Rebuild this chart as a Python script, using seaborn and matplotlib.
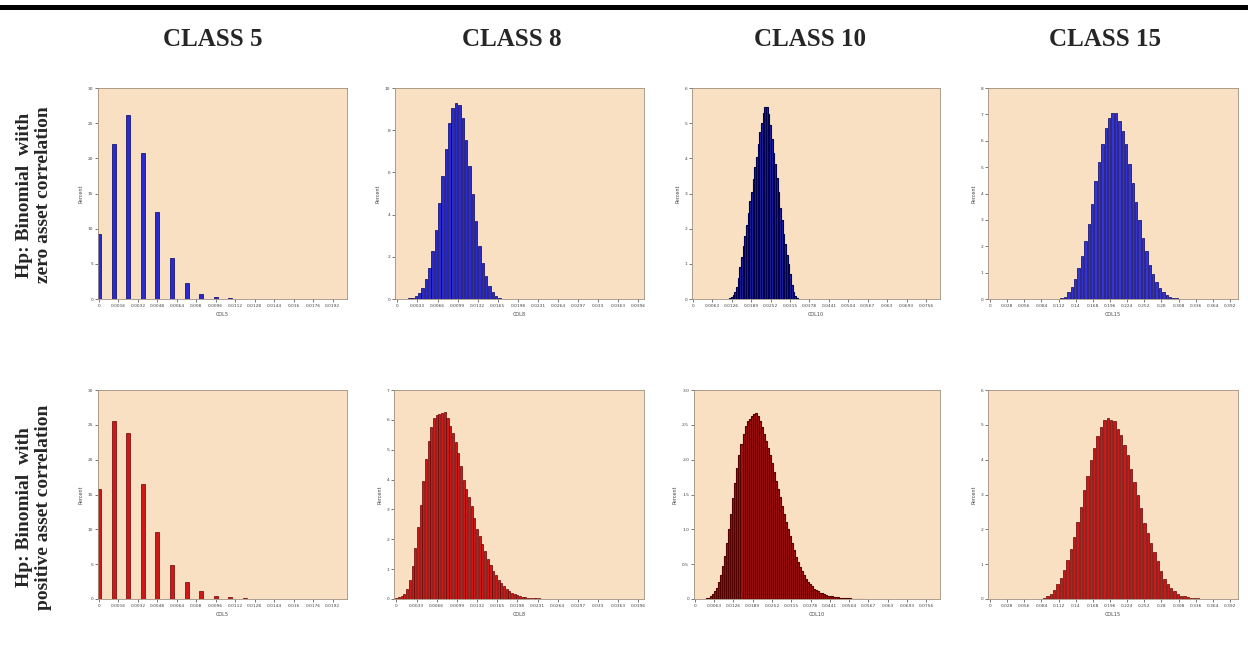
import numpy as np
import pandas as pd
import matplotlib
matplotlib.use("Agg")
import matplotlib.pyplot as plt
import seaborn as sns
from matplotlib.patches import Rectangle

# column titles and row labels
classes = ["CLASS 5", "CLASS 8", "CLASS 10", "CLASS 15"]
col_names = ["COL5", "COL8", "COL10", "COL15"]
row_labels = ["Hp: Binomial  wiith\nzero asset correlation",
              "Hp: Binomial  with\npositive asset correlation"]

# x tick labels (one list per class)
xt_class5 = ["0", "0.0016", "0.0032", "0.0048", "0.0064", "0.008", "0.0096",
             "0.0112", "0.0128", "0.0144", "0.016", "0.0176", "0.0192"]
xt_class8 = ["0", "0.0033", "0.0066", "0.0099", "0.0132", "0.0165", "0.0198",
             "0.0231", "0.0264", "0.0297", "0.033", "0.0363", "0.0396"]
xt_class10 = ["0", "0.0063", "0.0126", "0.0189", "0.0252", "0.0315", "0.0378",
              "0.0441", "0.0504", "0.0567", "0.063", "0.0693", "0.0756"]
xt_class15 = ["0", "0.028", "0.056", "0.084", "0.112", "0.14", "0.168", "0.196",
              "0.224", "0.252", "0.28", "0.308", "0.336", "0.364", "0.392"]
xt_steps = [0.0016, 0.0033, 0.0063, 0.028]

# bin start / bin width for every panel (row 0 = zero corr, row 1 = positive corr)
bin_start = [[0.0, 0.00197, 0.0121, 0.1115],
             [0.0, 0.0, 0.00405, 0.083]]
bin_width = [[0.0012, 0.000548, 0.00054, 0.00554],
             [0.0012, 0.00044, 0.000657, 0.00546]]

# percent values
c5_zero = [9.2, 22.1, 26.2, 20.8, 12.3, 5.8, 2.25, 0.72, 0.24, 0.08, 0.02]
c8_zero = [0.03, 0.06, 0.15, 0.27, 0.54, 0.94, 1.47, 2.26, 3.29, 4.53, 5.85, 7.13,
           8.36, 9.04, 9.31, 9.20, 8.56, 7.53, 6.28, 4.98, 3.70, 2.49, 1.71, 1.10,
           0.62, 0.32, 0.14, 0.06, 0.02, 0.01]
c10_zero = [0.02, 0.05, 0.1, 0.2, 0.35, 0.6, 0.9, 1.2, 1.5, 1.8, 2.1, 2.45, 2.8,
            3.05, 3.4, 3.75, 4.05, 4.4, 4.75, 5.0, 5.3, 5.45, 5.45, 5.25, 4.95,
            4.55, 4.15, 3.85, 3.45, 3.05, 2.6, 2.25, 1.85, 1.55, 1.25, 1.0, 0.7,
            0.4, 0.2, 0.08, 0.02]
c15_zero = [0.01, 0.04, 0.09, 0.28, 0.47, 0.77, 1.17, 1.62, 2.19, 2.83, 3.62, 4.46,
            5.19, 5.89, 6.47, 6.85, 7.07, 7.07, 6.75, 6.37, 5.89, 5.13, 4.39, 3.66,
            2.98, 2.32, 1.81, 1.30, 0.94, 0.64, 0.41, 0.26, 0.15, 0.09, 0.05, 0.03]

c5_pos = [15.8, 25.6, 23.8, 16.5, 9.55, 4.9, 2.4, 1.15, 0.5, 0.24, 0.1, 0.04]
c8_pos = [0.03, 0.06, 0.1, 0.18, 0.35, 0.65, 1.1, 1.7, 2.4, 3.15, 3.95, 4.7, 5.3,
          5.75, 6.05, 6.15, 6.2, 6.22, 6.25, 6.05, 5.8, 5.55, 5.25, 4.9, 4.45, 4.0,
          3.7, 3.4, 3.1, 2.7, 2.35, 2.1, 1.85, 1.6, 1.35, 1.15, 0.95, 0.8, 0.65,
          0.52, 0.42, 0.34, 0.27, 0.21, 0.17, 0.13, 0.1, 0.08, 0.06, 0.05, 0.04,
          0.03, 0.025, 0.02, 0.015, 0.012, 0.009, 0.007, 0.005, 0.004, 0.003]
c10_pos = [0.01, 0.02, 0.04, 0.07, 0.11, 0.16, 0.24, 0.34, 0.47, 0.62, 0.80, 1.00,
           1.22, 1.45, 1.67, 1.88, 2.07, 2.23, 2.37, 2.48, 2.55, 2.59, 2.62, 2.65,
           2.67, 2.63, 2.56, 2.47, 2.37, 2.27, 2.17, 2.06, 1.95, 1.82, 1.70, 1.58,
           1.46, 1.34, 1.22, 1.11, 1.01, 0.90, 0.80, 0.70, 0.61, 0.53, 0.46, 0.40,
           0.34, 0.29, 0.25, 0.21, 0.18, 0.15, 0.13, 0.11, 0.09, 0.08, 0.07, 0.06,
           0.05, 0.045, 0.04, 0.035, 0.03, 0.025, 0.02, 0.018, 0.015, 0.012, 0.01,
           0.008, 0.006, 0.005, 0.004, 0.003, 0.002, 0.002, 0.001]
c15_pos = [0.01, 0.04, 0.08, 0.15, 0.27, 0.44, 0.6, 0.84, 1.12, 1.43, 1.79, 2.22,
           2.63, 3.12, 3.52, 3.98, 4.33, 4.67, 4.95, 5.14, 5.2, 5.14, 5.12, 4.89,
           4.70, 4.41, 4.12, 3.72, 3.36, 2.98, 2.6, 2.19, 1.89, 1.6, 1.36, 1.1,
           0.79, 0.57, 0.44, 0.31, 0.22, 0.15, 0.1, 0.08, 0.06, 0.04, 0.03, 0.02,
           0.01]

values = [[c5_zero, c8_zero, c10_zero, c15_zero],
          [c5_pos, c8_pos, c10_pos, c15_pos]]
xticklabels = [xt_class5, xt_class8, xt_class10, xt_class15]

# y axes
yticks = [[[0, 5, 10, 15, 20, 25, 30], [0, 2, 4, 6, 8, 10], [0, 1, 2, 3, 4, 5, 6],
           [0, 1, 2, 3, 4, 5, 6, 7, 8]],
          [[0, 5, 10, 15, 20, 25, 30], [0, 1, 2, 3, 4, 5, 6, 7],
           [0, 0.5, 1.0, 1.5, 2.0, 2.5, 3.0], [0, 1, 2, 3, 4, 5, 6]]]

# layout (pixels)
W, H = 1248, 658
axes_x = [[(98, 347), (395, 644), (692, 940), (988, 1238)],
          [(98, 347), (394, 644), (694, 940), (988, 1238)]]
axes_y = [(88, 299), (390, 599)]
xpad = [(0.05, 0.74), (0.12, 0.28), (0.05, 0.72), (0.12, 0.47)]
shrink = [[0.28, 0.75, 1.0, 0.7], [0.28, 0.75, 1.0, 0.7]]
lw = [0.5, 0.5, 0.8, 0.5]
fills = [["#2a2ad2", "#2a2ad2", "#2020a8", "#3434d6"],
         ["#d01818", "#d01818", "#a81010", "#c81a1a"]]
edges = [["#000066", "#000066", "#00004a", "#000066"],
         ["#6a0000", "#6a0000", "#520000", "#6a0000"]]
bg = "#FAE0C2"

sns.set_style("ticks")
plt.rcParams["font.family"] = ["DejaVu Sans"]

fig = plt.figure(figsize=(W / 100, H / 100), dpi=100)
fig.patch.set_facecolor("white")

for r in range(2):
    for c in range(4):
        x0, x1 = axes_x[r][c]
        yt, yb = axes_y[r]
        ax = fig.add_axes([x0 / W, 1 - yb / H, (x1 - x0) / W, (yb - yt) / H])
        ax.set_facecolor(bg)

        vals = values[r][c]
        n = len(vals)
        step = bin_width[r][c]
        centers = bin_start[r][c] + step * np.arange(n)
        lo = bin_start[r][c] - step / 2
        df = pd.DataFrame({"x": centers, "pct": vals})
        sns.histplot(data=df, x="x", weights="pct", binwidth=step,
                     binrange=(lo, lo + n * step), shrink=shrink[r][c],
                     color=fills[r][c], edgecolor=edges[r][c], linewidth=lw[c],
                     alpha=1, ax=ax)

        labs = xticklabels[c]
        tstep = xt_steps[c]
        ticks = tstep * np.arange(len(labs))
        ax.set_xticks(ticks)
        ax.set_xticklabels(labs)
        lp, rp = xpad[c]
        ax.set_xlim(-lp * tstep, ticks[-1] + rp * tstep)

        yv = yticks[r][c]
        ax.set_ylim(0, yv[-1])
        ax.set_yticks(yv)
        ax.set_yticklabels(["0" if v == 0 else (f"{v:.1f}" if isinstance(v, float) else str(v)) for v in yv])

        ax.tick_params(labelsize=3.2, length=2, width=0.5, colors="#444444", pad=1.5)
        ax.set_xlabel(col_names[c], fontsize=3.5, color="#444444", labelpad=3)
        ax.set_ylabel("Percent", fontsize=3.5, color="#444444", labelpad=3)
        for s in ax.spines.values():
            s.set_color("#a09080")
            s.set_linewidth(0.6)

# column titles
title_x = [213, 512, 810, 1105]
for c in range(4):
    fig.text(title_x[c] / W, 1 - 40 / H, classes[c], ha="center", va="center",
             fontsize=18, fontweight="bold", family=["Liberation Serif", "DejaVu Serif"])

# row labels
row_y = [195, 507]
for r in range(2):
    fig.text(34 / W, 1 - row_y[r] / H, row_labels[r], ha="center", va="center",
             rotation=90, fontsize=14, fontweight="bold", linespacing=1.1,
             multialignment="center", family=["Liberation Serif", "DejaVu Serif"])

# thick black rule at the top
fig.add_artist(Rectangle((0, 1 - 10 / H), 1, 5 / H, transform=fig.transFigure,
                         facecolor="black", edgecolor="none"))

fig.savefig("out.png", dpi=100, facecolor="white")
